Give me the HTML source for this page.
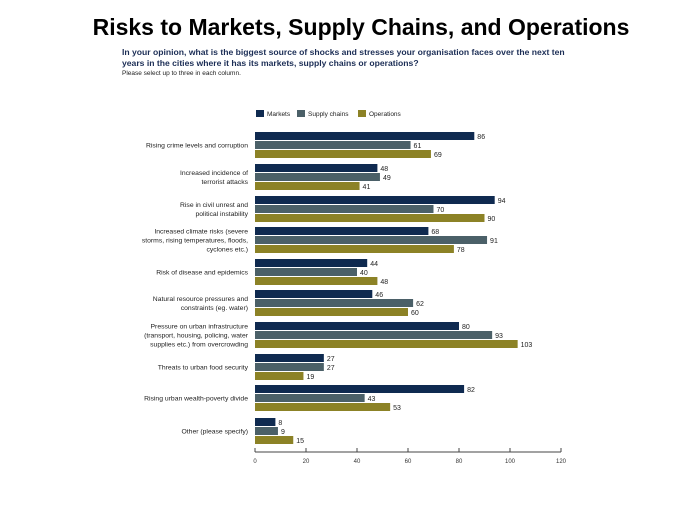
<!DOCTYPE html>
<html><head><meta charset="utf-8"><style>
html,body{margin:0;padding:0;background:#fff;width:700px;height:525px;overflow:hidden}
svg{display:block}
</style></head><body>
<svg width="700" height="525" xmlns="http://www.w3.org/2000/svg" font-family="Liberation Sans, sans-serif">
<text x="361" y="35" text-anchor="middle" font-size="23" font-weight="bold" fill="#000">Risks to Markets, Supply Chains, and Operations</text>
<text x="122" y="55" font-size="8.6" font-weight="bold" fill="#1b2d55">In your opinion, what is the biggest source of shocks and stresses your organisation faces over the next ten</text>
<text x="122" y="66" font-size="8.6" font-weight="bold" fill="#1b2d55">years in the cities where it has its markets, supply chains or operations?</text>
<text x="122" y="75" font-size="6.5" fill="#222">Please select up to three in each column.</text>
<g font-size="6.5" fill="#222">
<rect x="256" y="110" width="8" height="7" fill="#0f2a50"/><text x="267" y="116">Markets</text>
<rect x="297" y="110" width="8" height="7" fill="#4b6068"/><text x="308" y="116">Supply chains</text>
<rect x="358" y="110" width="8" height="7" fill="#8c8226"/><text x="369" y="116">Operations</text>
</g>
<g id="bars" font-size="7" fill="#222"></g>
<g font-size="6.8" fill="#222" text-anchor="end" id="labels"></g>
<line x1="255" y1="452" x2="561" y2="452" stroke="#444" stroke-width="1"/>
<g id="ticks" font-size="6" fill="#333" text-anchor="middle"></g>
<script>
var d=[[86,61,69],[48,49,41],[94,70,90],[68,91,78],[44,40,48],[46,62,60],[80,93,103],[27,27,19],[82,43,53],[8,9,15]];
var L=[["Rising crime levels and corruption"],["Increased incidence of","terrorist attacks"],["Rise in civil unrest and","political instability"],["Increased climate risks (severe","storms, rising temperatures, floods,","cyclones etc.)"],["Risk of disease and epidemics"],["Natural resource pressures and","constraints (eg. water)"],["Pressure on urban infrastructure","(transport, housing, policing, water","supplies etc.) from overcrowding"],["Threats to urban food security"],["Rising urban wealth-poverty divide"],["Other (please specify)"]];
var tops=[132,164,196,227,259,290,322,354,385,418],c=["#0f2a50","#4b6068","#8c8226"];
var ns="http://www.w3.org/2000/svg",b=document.getElementById("bars"),lb=document.getElementById("labels"),tk=document.getElementById("ticks");
function el(p,t,a,tx){var e=document.createElementNS(ns,t);for(var k in a)e.setAttribute(k,a[k]);if(tx!=null)e.textContent=tx;p.appendChild(e);return e;}
d.forEach(function(g,i){g.forEach(function(v,j){var y=tops[i]+j*9,w=v*2.55;el(b,"rect",{x:255,y:y,width:w,height:8,fill:c[j]});el(b,"text",{x:255+w+3,y:y+7},""+v);});
var n=L[i].length,cy=tops[i]+13;L[i].forEach(function(s,k){el(lb,"text",{x:248,y:cy+2.5+(k-(n-1)/2)*9},s);});});
for(var t=0;t<=120;t+=20){var x=255+t*2.55;el(tk,"line",{x1:x,y1:448,x2:x,y2:452,stroke:"#444"});el(tk,"text",{x:x,y:463},""+t);}
</script>
</svg>
</body></html>
